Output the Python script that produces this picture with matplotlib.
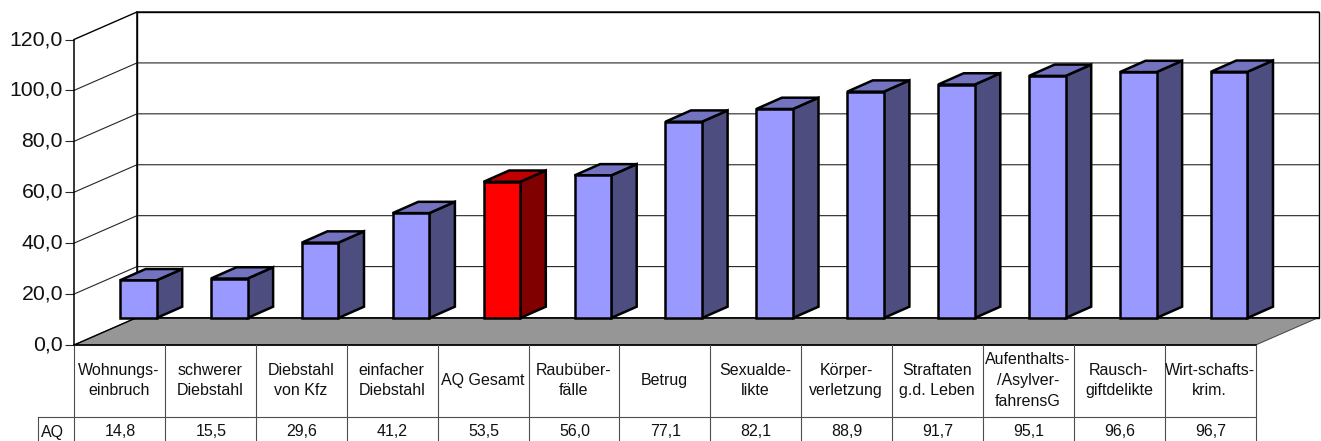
import matplotlib
matplotlib.use("Agg")
import matplotlib.pyplot as plt

plt.rcParams['font.family'] = ['Liberation Sans', 'DejaVu Sans']

categories = ["Wohnungs-\neinbruch", "schwerer\nDiebstahl", "Diebstahl\nvon Kfz", "einfacher\nDiebstahl",
              "AQ Gesamt", "Raubüber-\nfälle", "Betrug", "Sexualde-\nlikte", "Körper-\nverletzung",
              "Straftaten\ng.d. Leben", "Aufenthalts-\n/Asylver-\nfahrensG", "Rausch-\ngiftdelikte",
              "Wirt-schafts-\nkrim."]
values = [14.8, 15.5, 29.6, 41.2, 53.5, 56.0, 77.1, 82.1, 88.9, 91.7, 95.1, 96.6, 96.7]
row_label = "AQ"
y_ticks = [0, 20, 40, 60, 80, 100, 120]
highlight = "AQ Gesamt"

W, H = 1321, 441
x0_px, y0_px = 74.0, 345.0
cat_px = (1255.7 - 74.0) / 13
val_px = 305.5 / 120

def cx(px):   # pixel widths -> category units
    return px / cat_px

def vy(px):   # pixel heights -> value units
    return px / val_px

fig = plt.figure(figsize=(W / 100, H / 100), dpi=100, facecolor='white')
ax = fig.add_axes([0, 0, 1, 1])
ax.set_xlim(-x0_px / cat_px, (W - x0_px) / cat_px)
ax.set_ylim(-(H - y0_px) / val_px, y0_px / val_px)
ax.patch.set_visible(False)

n = len(categories)
ymax = y_ticks[-1]
wall_dx, wall_dy = cx(63.0), vy(27.5)

# Walls and floor
ax.fill([wall_dx, n + wall_dx, n + wall_dx, wall_dx],
        [wall_dy, wall_dy, ymax + wall_dy, ymax + wall_dy],
        fc='white', ec='black', lw=1.0, zorder=1)
ax.fill([0, wall_dx, n + wall_dx, n], [0, wall_dy, wall_dy, 0],
        fc='#969696', ec='#404040', lw=0.7, zorder=2)
ax.plot([wall_dx, n + wall_dx], [wall_dy, wall_dy], color='black', lw=1.2, zorder=3)
ax.plot([0, n], [0, 0], color='black', lw=1.2, zorder=3)

# Gridlines on side and back wall
for v in y_ticks[1:]:
    ax.plot([0, wall_dx, n + wall_dx], [v, v + wall_dy, v + wall_dy],
            color='#262626' if v < ymax else 'black', lw=0.8 if v < ymax else 1.0, zorder=2,
            solid_joinstyle='miter')
ax.plot([wall_dx, wall_dx], [wall_dy, ymax + wall_dy], color='black', lw=1.1, zorder=3)
ax.plot([0, wall_dx], [0, wall_dy], color='black', lw=1.0, zorder=3)

# Bars
bar_left = cx(120.0 - x0_px)
bar_w = cx(36.6)
bar_base = vy(27.0)
depth_dx, depth_dy = cx(25.6), vy(11.3)
edge_lw = 1.8
for i, (c, v) in enumerate(zip(categories, values)):
    red = c == highlight
    front, side, top = (('#FF0000', '#800000', '#BF0000') if red else ('#9999FF', '#4D4D80', '#7373BF'))
    xl = i + bar_left
    xr = xl + bar_w
    yb = bar_base
    yt = bar_base + v
    z = 5 + i * 0.01
    ax.fill([xr, xr + depth_dx, xr + depth_dx, xr], [yb, yb + depth_dy, yt + depth_dy, yt],
            fc=side, ec='black', lw=edge_lw, zorder=z, joinstyle='miter')
    ax.fill([xl, xl + depth_dx, xr + depth_dx, xr], [yt, yt + depth_dy, yt + depth_dy, yt],
            fc=top, ec='black', lw=edge_lw, zorder=z, joinstyle='miter')
    ax.bar(xl, v, width=bar_w, bottom=yb, align='edge', color=front, edgecolor='black',
           linewidth=edge_lw, zorder=z + 0.001)

# Value axis
for s in ('top', 'right', 'bottom'):
    ax.spines[s].set_visible(False)
ax.spines['left'].set_position(('data', 0))
ax.spines['left'].set_bounds(0, ymax)
ax.spines['left'].set_linewidth(1.1)
ax.spines['left'].set_zorder(4)
ax.set_xticks([])
ax.set_yticks(y_ticks)
ax.set_yticklabels([f"{v:.1f}".replace('.', ',') for v in y_ticks], fontsize=15.3, color='#111111',
                   va='center')
ax.tick_params(axis='y', length=6.5, width=0.8, pad=1.5, color='#262626')

# Data table below the axis
tbl_line = dict(color='#4d4d4d', lw=0.8, zorder=3, clip_on=False)
row_y = -vy(416.5 - y0_px)
bottom_y = -vy(H - y0_px)
label_y = -vy(380.5 - y0_px)
value_y = -vy(431 - y0_px)
row_left = -cx(x0_px - 38.5)
for k in range(n + 1):
    ax.plot([k, k], [0, bottom_y], **tbl_line)
ax.plot([row_left, n], [row_y, row_y], **tbl_line)
ax.plot([row_left, row_left], [row_y, bottom_y], **tbl_line)
for i, (c, v) in enumerate(zip(categories, values)):
    ax.text(i + 0.495, label_y, c, ha='center', va='center', fontsize=11.5, linespacing=1.47, color='#111111')
    ax.text(i + 0.505, value_y, f"{v:.1f}".replace('.', ','), ha='center', va='center', fontsize=11.5, color='#111111')
ax.text(row_left + cx(2.5), -vy(432.5 - y0_px), row_label, ha='left', va='center', fontsize=11.5, color='#111111')

fig.savefig('out.png', dpi=100)
